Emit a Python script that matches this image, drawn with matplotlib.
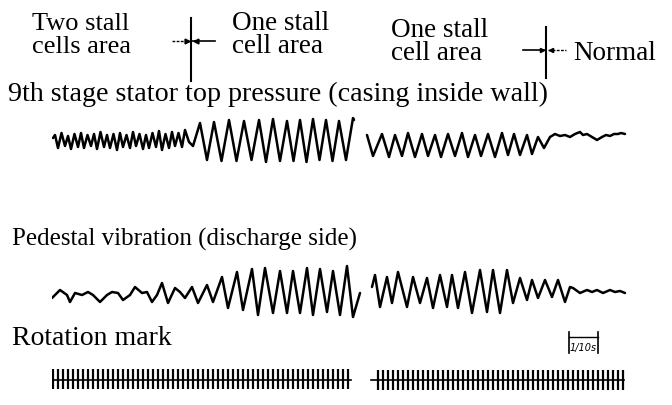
import numpy as np
import matplotlib
matplotlib.use("Agg")
import matplotlib.pyplot as plt

plt.rcParams['font.family'] = ['Liberation Serif', 'DejaVu Serif']

# ---------------- data (time in recorder units: 29 units = 1/10 s) ----------------
# 9th stage stator top pressure, extremes of the trace
pressure_t = [1, 3, 6, 9.5, 13, 16, 19, 22.5, 26, 29, 32, 35.5, 39, 42, 45, 48.5, 52, 55, 58, 61.5,
              65, 68, 71, 74.5, 78, 81, 84, 87.5, 91, 94, 97, 100.5, 104, 107, 110, 113.5, 117, 120,
              123, 126.5, 130, 133, 137, 141,
              148, 155, 162, 169.5, 177, 184.5, 192, 199.5, 207, 214, 221, 228, 235, 241.5, 248,
              254.5, 261, 267.5, 274, 280.5, 287, 294, 301, 302]
pressure_v = [2, 5, -8, 7, -6, 4, -9, 6, -7, 7, -8, 5, -6, 6, -9, 8, -7, 5, -8, 6,
              -10, 7, -7, 5, -8, 8, -6, 6, -9, 5, -8, 7, -7, 9, -10, 6, -8, 8,
              -6, 7, -7, 10, -2, -6,
              17, -20, 18, -21, 20, -21, 19, -20, 20, -22, 21, -21, 19, -21, 20,
              -22, 21, -20, 20, -21, 19, -20, 22, 20]
pressure2_t = [315, 321, 330, 337, 343, 350, 356, 363, 370, 376, 383, 389, 396, 403, 410, 416,
               423, 429, 436, 443, 450, 456, 462, 468, 475, 480, 486, 492,
               498, 503, 508, 513, 518, 523, 528, 531, 535, 540, 545, 550, 554, 558, 562, 566,
               569, 573]
pressure2_v = [5, -16, 6, -17, 5, -16, 7, -17, 6, -16, 5, -17, 6, -16, 7, -17,
               5, -16, 6, -17, 7, -15, 6, -15, 5, -14, 3, -8,
               3, 6, 4, 5, 3, 6, 8, 5, 6, 3, 0, 3, 5, 4, 6, 6,
               7, 6]

# Pedestal vibration (discharge side)
vib_t = [0, 8, 15, 18, 23, 30, 36, 41, 48, 55, 60, 66, 71, 78, 83, 90, 95, 100, 105, 110,
         116, 123, 128, 133, 140, 146, 155, 161, 170, 176, 185, 191, 200, 206, 213, 221,
         228, 235, 241, 248, 255, 261, 268, 275, 281, 288, 295, 301, 308]
vib_v = [-6, 2, -3, -10, -1, -3, 0, -3, -10, -3, 0, -1, -8, -3, 5, -1, 0, -10, -3, 9,
         -11, 4, 0, -6, 5, -11, 7, -10, 15, -16, 20, -18, 23, -23, 24, -21,
         21, -21, 21, -21, 24, -23, 23, -20, 21, -23, 26, -25, -1]
vib2_t = [320, 323, 328, 335, 340, 346, 355, 361, 368, 375, 381, 388, 395, 400, 406, 413,
          420, 428, 435, 441, 448, 455, 461, 468, 475, 480, 486, 493, 500, 506, 513, 518,
          521, 528, 535, 540, 545, 551, 558, 563, 568, 573]
vib2_v = [5, 17, -15, 15, -11, 20, -15, 15, -11, 14, -16, 17, -15, 17, -16, 20,
          -21, 22, -20, 22, -21, 22, -11, 14, -8, 12, -6, 12, -5, 12, -10, 5,
          4, -1, 2, 0, 2, -1, 2, 0, 1, -1]

# Rotation mark pulses
rot1_t = [1, 6, 11, 16, 21, 26, 31, 36, 41, 46, 51, 56, 61, 66, 71, 76, 81, 86, 91, 96,
          101, 106, 111, 116, 121, 126, 131, 136, 141, 146, 151, 156, 161, 166, 171, 176,
          181, 186, 191, 196, 201, 206, 211, 216, 221, 226, 231, 236, 241, 246, 251, 256,
          261, 266, 271, 276, 281, 286, 291, 296]
rot1_span = [0, 299]
rot2_t = [326, 331, 336, 341, 346, 351, 356, 361, 366, 371, 376, 381, 386, 391, 396, 401,
          406, 411, 416, 421, 426, 431, 436, 441, 446, 451, 456, 461, 466, 471, 476, 481,
          486, 491, 496, 501, 506, 511, 516, 521, 526, 531, 536, 541, 546, 551, 556, 561,
          566, 571]
rot2_span = [319, 572]

titles = ["9th stage stator top pressure (casing inside wall)",
          "Pedestal vibration (discharge side)",
          "Rotation mark"]

# ---------------- figure ----------------
W, H = 672, 405
fig = plt.figure(figsize=(W / 100, H / 100), dpi=100)
ov = fig.add_axes([0, 0, 1, 1])
ov.set_xlim(0, W)
ov.set_ylim(H, 0)
ov.axis('off')

X0, XW = 52, 580


def trace_axes(yc, h):
    ax = fig.add_axes([X0 / W, 1 - (yc + h) / H, XW / W, 2 * h / H])
    ax.set_xlim(0, XW)
    ax.set_ylim(-h, h)
    ax.axis('off')
    return ax


lw = 1.8
ap = trace_axes(140, 30)
ap.plot(pressure_t, pressure_v, color='black', lw=lw, solid_joinstyle='round', solid_capstyle='round')
ap.plot(pressure2_t, pressure2_v, color='black', lw=lw, solid_joinstyle='round', solid_capstyle='round')

av = trace_axes(292, 32)
av.plot(vib_t, vib_v, color='black', lw=lw, solid_joinstyle='round', solid_capstyle='round')
av.plot(vib2_t, vib2_v, color='black', lw=lw, solid_joinstyle='round', solid_capstyle='round')

ar = trace_axes(380, 15)
ar.plot(rot1_span, [0, 0], color='black', lw=1.2)
ar.plot(rot2_span, [0, 0], color='black', lw=1.2)
ar.vlines(rot1_t, -9, 11, color='black', lw=1.6)
ar.vlines(rot2_t, -10, 10, color='black', lw=1.6)


def label(x, y, s, size):
    ov.text(x, y, s, fontsize=size, color='black', va='baseline', ha='left')


label(32, 30, "Two stall", 19)
label(32, 53, "cells area", 19)
label(232, 30, "One stall", 19.5)
label(232, 53, "cell area", 19.5)
label(391, 37, "One stall", 19.5)
label(391, 60, "cell area", 19.5)
label(573, 60, "Normal", 19.5)
label(8, 101, titles[0], 20.2)
label(12, 246, titles[1], 18)
label(12, 345, titles[2], 20)

# header markers
ov.plot([191, 191], [18, 81], color='black', lw=1.5)
ov.plot([172, 189], [41, 41], color='black', lw=1.0, ls=(0, (2, 1)))
ov.plot([191, 215], [41, 41], color='black', lw=1.2)
ov.plot([187], [41], marker='>', color='black', ms=3.5)
ov.plot([196], [41], marker='<', color='black', ms=3.5)

ov.plot([546, 546], [27, 78], color='black', lw=1.5)
ov.plot([523, 544], [50, 50], color='black', lw=1.2)
ov.plot([548, 566], [50, 50], color='black', lw=1.0, ls=(0, (2, 1)))
ov.plot([542], [50], marker='>', color='black', ms=3.0)
ov.plot([551], [50], marker='<', color='black', ms=3.0)

# 1/10 s scale bar
ov.plot([569, 569], [332, 353], color='black', lw=1.2)
ov.plot([598, 598], [332, 353], color='black', lw=1.2)
ov.plot([569, 598], [337, 337], color='black', lw=1.0)
ov.text(583.5, 351, "1/10s", fontsize=7, style='italic', ha='center', va='baseline',
        family=['DejaVu Sans'])

fig.savefig("out.png", dpi=100)
